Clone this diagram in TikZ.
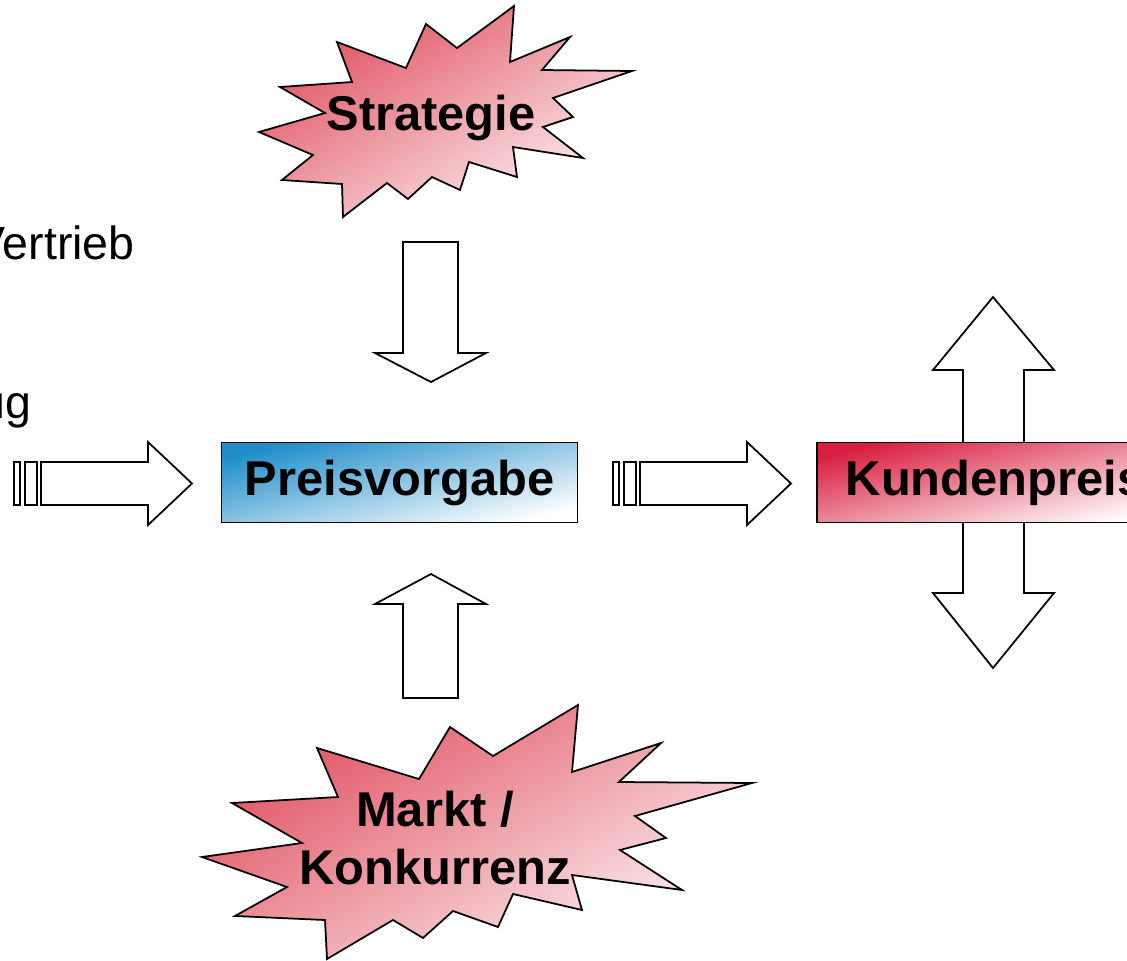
\documentclass[tikz,border=0pt]{standalone}
\usepackage{fontspec}
\setmainfont{Liberation Sans}
\definecolor{pvBlue}{HTML}{1F8DC9}
\definecolor{pvRed}{HTML}{D81E3F}
\definecolor{pvBurst}{HTML}{E0505F}
\definecolor{pvPale}{HTML}{FCF0F2}
\tikzset{
  pv diagram/.style={x=0.02cm, y=-0.02cm, line join=miter,
    font=\fontsize{27.8}{33}\selectfont\bfseries},
  pv outline/.style={draw=black, line width=1pt},
  pv burst/.style={pv outline, top color=pvBurst, bottom color=pvPale, shading angle=30},
  pv box/.style={pv outline, minimum width=7.12cm, minimum height=1.6cm, inner sep=0pt},
  pv block/.style={pv outline, fill=white},
  pv label/.style={font=\fontsize{26.5}{32}\selectfont, anchor=base east, inner sep=0pt},
  pv text/.style={align=center, inner sep=0pt},
  stripedarrow/.pic={
    \draw[pv block] (0,-21.5) rectangle (6,21.5);
    \draw[pv block] (11,-21.5) rectangle (23,21.5);
    \draw[pv block] (27,-21.5) -- (134,-21.5) -- (134,-41.5) -- (178,0)
      -- (134,41.5) -- (134,21.5) -- (27,21.5) -- cycle;
  }
}
\begin{document}
\begin{tikzpicture}[pv diagram]
\path[use as bounding box, fill=white] (0,0) rectangle (1127,961);
\clip (0,0) rectangle (1127,961);
% left labels, cut off by the page edge
\node[pv label] (vertrieb) at (135,259) {Vertrieb};
\node[pv label] (ug) at (32,418) {ug};
% Strategie
\shadedraw[pv burst] (337,42) -- (406,68) -- (426,24) -- (457,48) -- (514,6)
  -- (510,62) -- (570,37) -- (542,70) -- (632,71) -- (553,98) -- (573,117)
  -- (543,127) -- (583,158) -- (513,147) -- (517,177) -- (469,162) -- (460,190)
  -- (432,177) -- (408,199) -- (387,183) -- (343,217) -- (342,184) -- (282,180)
  -- (313,155) -- (259,132) -- (325,113) -- (280,87) -- (352,82) -- cycle;
\node[pv text, anchor=base] (strategie) at (431,130) {Strategie};
\draw[pv block] (403,242) -- (458,242) -- (458,353) -- (486,353) -- (431,382)
  -- (375,353) -- (403,353) -- cycle;
% Markt / Konkurrenz
\shadedraw[pv burst] (317,748) -- (419,779) -- (450,727) -- (493,756) -- (578,705)
  -- (572,772) -- (661,743) -- (619,782) -- (752,783) -- (635,816) -- (666,838)
  -- (620,850) -- (682,890) -- (572,875) -- (582,910) -- (513,894) -- (498,927)
  -- (453,911) -- (423,938) -- (393,920) -- (327,959) -- (325,920) -- (235,916)
  -- (287,887) -- (202,857) -- (302,843) -- (232,803) -- (338,797) -- cycle;
\node[pv text] (markt) at (435,838) {Markt /\\Konkurrenz};
\draw[pv block] (431,574) -- (486,604) -- (458,604) -- (458,698) -- (403,698)
  -- (403,604) -- (375,604) -- cycle;
% centre row
\pic at (14,483.5) {stripedarrow};
\node[pv box, top color=pvBlue, bottom color=white, shading angle=14] (preis)
  at (399.5,482.5) {Preisvorgabe};
\pic at (613,483.5) {stripedarrow};
\draw[pv block] (993,297) -- (1054,370) -- (1024,370) -- (1024,593) -- (1054,593)
  -- (993,668) -- (933,593) -- (963,593) -- (963,370) -- (933,370) -- cycle;
\node[pv box, top color=pvRed, bottom color=white, shading angle=14] (kunde)
  at (995,482.5) {Kundenpreis};
\end{tikzpicture}
\end{document}
